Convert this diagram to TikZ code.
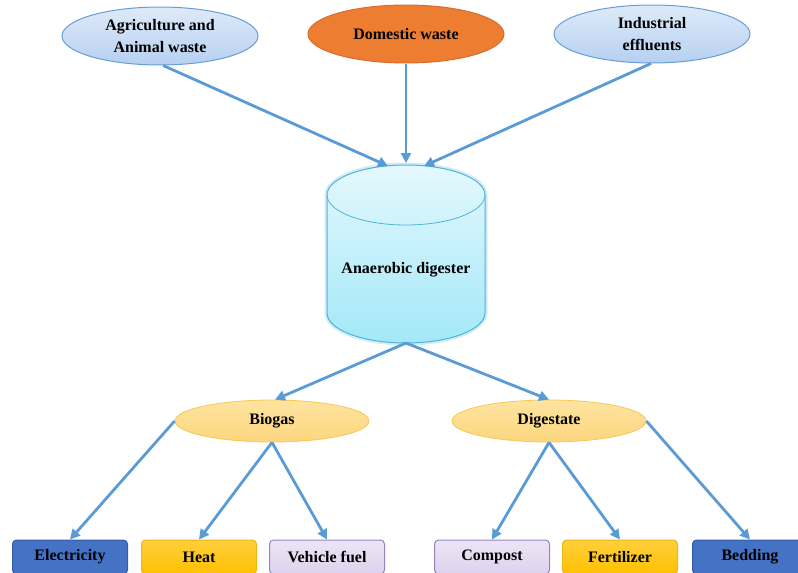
\documentclass[tikz,border=0pt]{standalone}
\usepackage{fontspec}
\setmainfont{Liberation Serif}
\usetikzlibrary{shapes.geometric,arrows.meta}
\definecolor{arrowblue}{RGB}{91,155,213}
\definecolor{ltblueA}{RGB}{222,234,249}
\definecolor{ltblueB}{RGB}{182,208,241}
\definecolor{blueedge}{RGB}{104,158,216}
\definecolor{orangefill}{RGB}{237,125,49}
\definecolor{orangeedge}{RGB}{215,110,45}
\definecolor{cylA}{RGB}{228,248,253}
\definecolor{cylB}{RGB}{163,232,248}
\definecolor{cyledge}{RGB}{80,180,215}
\definecolor{cylglow}{RGB}{190,228,245}
\definecolor{yelA}{RGB}{253,228,160}
\definecolor{yelB}{RGB}{252,214,126}
\definecolor{yeledge}{RGB}{248,200,80}
\definecolor{darkblue}{RGB}{68,114,196}
\definecolor{darkblueedge}{RGB}{52,92,168}
\definecolor{goldA}{RGB}{255,208,60}
\definecolor{goldB}{RGB}{255,192,0}
\definecolor{goldedge}{RGB}{240,180,20}
\definecolor{lavA}{RGB}{236,229,246}
\definecolor{lavB}{RGB}{221,210,238}
\definecolor{lavedge}{RGB}{150,130,195}
\tikzset{
  lbl/.style={font=\bfseries\fontsize{16}{21.5}\selectfont, text=black, align=center},
  srcell/.style={ellipse, lbl, minimum width=196pt, minimum height=58pt, inner sep=0pt, line width=1pt},
  blueell/.style={srcell, draw=blueedge, top color=ltblueA, bottom color=ltblueB},
  orangeell/.style={srcell, draw=orangeedge, fill=orangefill},
  prodell/.style={ellipse, lbl, minimum width=194pt, minimum height=42pt, inner sep=0pt, line width=0.8pt, draw=yeledge, top color=yelA, bottom color=yelB},
  outbox/.style={rectangle, rounded corners=4pt, lbl, minimum width=115pt, minimum height=34pt, inner sep=0pt, line width=1pt},
  dbbox/.style={outbox, draw=darkblueedge, fill=darkblue},
  goldbox/.style={outbox, draw=goldedge, top color=goldA, bottom color=goldB},
  lavbox/.style={outbox, draw=lavedge, top color=lavA, bottom color=lavB},
  flow/.style={draw=arrowblue, line width=2.8pt, -{Triangle[length=10pt,width=10pt]}}
}
\begin{document}
\begin{tikzpicture}[x=1pt,y=1pt]
\useasboundingbox (0,0) rectangle (798,-573);
% sources
\node[blueell] (agri) at (160,-36) {Agriculture and\\Animal waste};
\node[orangeell] (dom) at (406,-34) {Domestic waste};
\node[blueell] (ind) at (652,-34) {Industrial\\effluents};
% cylinder (anaerobic digester)
\draw[cylglow, line width=5pt, opacity=0.7]
  (327,-195) -- (327,-313) arc (180:360:79pt and 30pt) -- (485,-195) arc (0:180:79pt and 30pt) -- cycle;
\shade[top color=cylA, bottom color=cylB]
  (327,-195) -- (327,-313) arc (180:360:79pt and 30pt) -- (485,-195) arc (0:180:79pt and 30pt) -- cycle;
\draw[cyledge, line width=1pt]
  (327,-195) -- (327,-313) arc (180:360:79pt and 30pt) -- (485,-195) arc (0:180:79pt and 30pt) -- cycle;
\draw[cyledge, line width=0.8pt] (327,-195) arc (180:360:79pt and 30pt);
\node[lbl] (digr) at (406,-270) {Anaerobic digester};
\coordinate (digtopL) at (388,-166);
\coordinate (digtopC) at (406,-163);
\coordinate (digtopR) at (424,-166);
\coordinate (digbot) at (406,-343);
% products
\node[prodell] (bio) at (272,-421) {Biogas};
\node[prodell] (dige) at (549,-421) {Digestate};
% outputs
\node[dbbox] (elec) at (70,-557) {Electricity};
\node[goldbox] (heat) at (199,-557) {Heat};
\node[lavbox] (veh) at (327,-557) {Vehicle fuel};
\node[lavbox] (comp) at (492,-557) {Compost};
\node[goldbox] (fert) at (620,-557) {Fertilizer};
\node[dbbox] (bed) at (750,-557) {Bedding};
% connectors
\draw[flow] (agri.-84) -- (digtopL);
\draw[flow] (dom.south) -- (digtopC);
\draw[flow] (ind.-92) -- (digtopR);
\draw[flow] (digbot) -- (bio.82);
\draw[flow] (digbot) -- (dige.90);
\draw[flow] (bio.west) -- (elec.north);
\draw[flow] (bio.south) -- (heat.north);
\draw[flow] (bio.south) -- (veh.north);
\draw[flow] (dige.south) -- (comp.north);
\draw[flow] (dige.south) -- (fert.north);
\draw[flow] (dige.east) -- (bed.north);
\end{tikzpicture}
\end{document}
